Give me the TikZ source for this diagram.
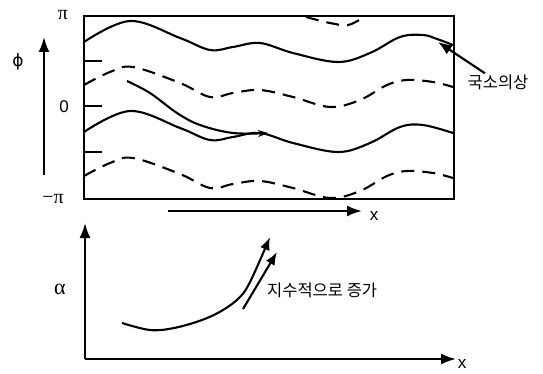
\documentclass[tikz,border=0pt]{standalone}
\usepackage{fontspec}
\setmainfont{Liberation Sans}
\newfontfamily\korfont{Noto Sans CJK KR}
\newfontfamily\symfont{Liberation Serif}
\newfontfamily\phifont{DejaVu Sans}
\usetikzlibrary{arrows.meta}

\begin{document}
\begin{tikzpicture}[
    x=1pt, y=-1pt,
    frame/.style={line width=2.2pt},
    wave/.style={line width=2.1pt, smooth, tension=0.6},
    dwave/.style={wave, dash pattern=on 13pt off 8pt},
    axis/.style={line width=2.1pt, -{Latex[length=15pt,width=11pt]}},
    pointer/.style={line width=2.1pt, -{Latex[length=14pt,width=11pt]}},
    lab/.style={inner sep=1pt, font=\fontsize{17}{18}\selectfont},
    greek/.style={inner sep=1pt, font=\fontsize{20}{20}\selectfont\symfont},
    kor/.style={inner sep=1pt, font=\fontsize{16.5}{18}\selectfont\korfont}
]
\useasboundingbox (0,0) rectangle (543,374);

% Phase plane
\draw[frame] (84,16) rectangle (454,199);
\foreach \y in {61,106,152} \draw[frame] (84,\y) -- (102,\y);
\node[greek] (pitop) at (63,15) {π};
\node[lab] (zero) at (64,107) {0};
\node[greek] (pibot) at (53,199) {−π};

% Phase axis
\node[lab, font=\fontsize{17}{18}\selectfont\phifont] (phi) at (18,62) {ϕ};
\coordinate (phistart) at (44,175);
\coordinate (phiend) at (44,37);
\draw[axis] (phistart) -- (phiend);

% Solid fronts
\draw[wave] plot coordinates {(84,42) (130,21) (180,38) (210,50) (233,47) (260,43)
    (293,53) (338,62) (370,53) (400,37) (423,35) (437,39) (453,45)};
\draw[wave] plot coordinates {(84,132) (130,111) (180,128) (210,140) (233,137) (260,133)
    (293,143) (338,152) (370,143) (400,127) (423,125) (453,133)};

% Dashed fronts
\draw[dwave] plot coordinates {(84,85) (110,72) (133,67) (180,83) (210,97) (233,93) (260,90)
    (293,97) (330,107) (360,100) (387,85) (407,80) (433,82) (453,87)};
\draw[dwave] plot coordinates {(84,176) (110,163) (133,158) (180,174) (210,188) (233,184) (260,181)
    (293,188) (330,198) (360,191) (387,176) (407,171) (433,173) (453,178)};
\draw[dwave] plot coordinates {(306,17) (330,23) (348,25) (364,17)};

% Drift inside
\draw[wave, -{Stealth[length=10pt,width=7pt]}] plot coordinates {(127,81) (150,93) (177,113)
    (200,125) (233,133) (268,133)};

% Local phase label
\node[kor] (local) at (498,82) {국소의상};
\coordinate (localtip) at (438,42);
\draw[pointer] (local) -- (localtip);

% x direction
\coordinate (xstart) at (168,211);
\coordinate (xend) at (362,211);
\draw[axis] (xstart) -- (xend);
\node[lab] (xtop) at (374,216) {x};

% Amplitude axes
\coordinate (origin) at (85,359);
\coordinate (alphaend) at (85,223);
\coordinate (xbotend) at (456,359);
\draw[axis] (origin) -- (alphaend);
\draw[axis] (origin) -- (xbotend);
\node[greek, font=\fontsize{22}{22}\selectfont\symfont] (alpha) at (60,289) {α};
\node[lab] (xbot) at (462,364) {x};

% Growth
\draw[wave, -{Latex[length=13pt,width=10pt]}] plot coordinates {(122,323) (150,330) (174,328)
    (202,320) (223,310) (240,297) (251,280) (270,237)};
\coordinate (grstart) at (243,309);
\coordinate (grend) at (277,252);
\draw[pointer, -{Latex[length=13pt,width=10pt]}] (grstart) -- (grend);
\node[kor, anchor=west] (growth) at (266,290) {지수적으로 증가};
\end{tikzpicture}
\end{document}
